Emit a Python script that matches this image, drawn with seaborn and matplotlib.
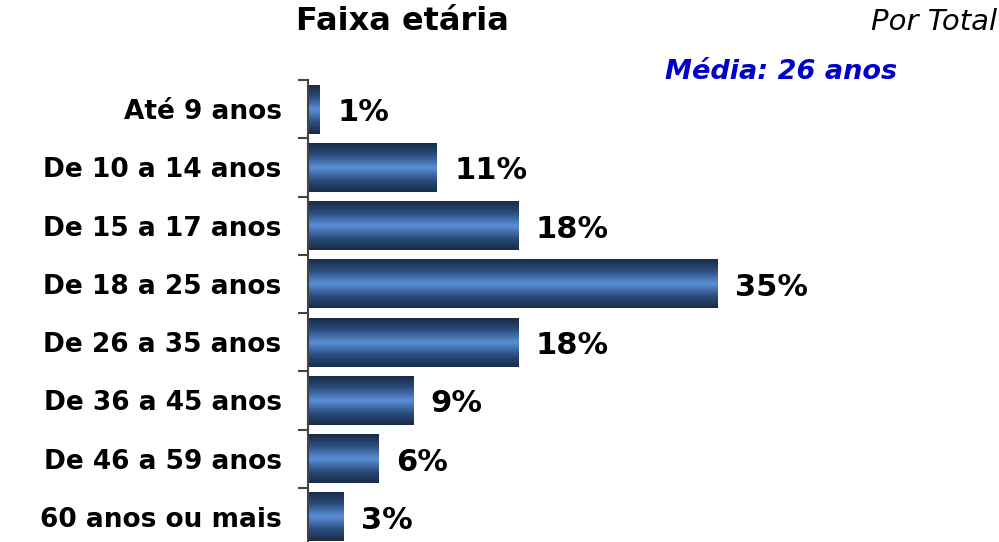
import matplotlib
matplotlib.use("Agg")
import matplotlib.pyplot as plt
from matplotlib.colors import LinearSegmentedColormap
import seaborn as sns
import pandas as pd
import numpy as np

categorias = ["Até 9 anos", "De 10 a 14 anos", "De 15 a 17 anos", "De 18 a 25 anos",
              "De 26 a 35 anos", "De 36 a 45 anos", "De 46 a 59 anos", "60 anos ou mais"]
percentuais = [1, 11, 18, 35, 18, 9, 6, 3]
rotulos = ["1%", "11%", "18%", "35%", "18%", "9%", "6%", "3%"]

df = pd.DataFrame({"faixa": categorias, "pct": percentuais})

sns.set_style("white")
plt.rcParams['font.family'] = ['DejaVu Sans']
plt.rcParams['text.color'] = 'black'

fig = plt.figure(figsize=(9.99, 5.42), dpi=100)
ax = fig.add_axes([308 / 999, -4 / 542, 1 - 308 / 999, 466 / 542])

sns.barplot(data=df, x="pct", y="faixa", orient="h", color="#2f5a90",
            width=0.84, ax=ax)

# gradiente vertical em cada barra (escuro nas bordas, claro no meio)
cmap = LinearSegmentedColormap.from_list(
    "barra", ["#172a47", "#2c4f80", "#5a8fd8", "#2c4f80", "#172a47"])
grad = np.linspace(0, 1, 256).reshape(-1, 1)
for p in ax.patches:
    x0, y0 = p.get_x(), p.get_y()
    w, h = p.get_width(), p.get_height()
    p.set_facecolor("none")
    p.set_edgecolor("none")
    im = ax.imshow(grad, cmap=cmap, aspect="auto", extent=[x0, x0 + w, y0 + h, y0],
                   zorder=2, interpolation="bicubic")
    im.set_clip_path(p)

ax.set_xlim(0, (999 - 308) / 11.69)
ax.set_ylim(len(categorias) - 0.5, -0.5)

for i, (v, r) in enumerate(zip(percentuais, rotulos)):
    ax.text(v + 1.5, i + 0.06, r, va="center", ha="left", fontsize=22,
            fontweight="bold", color="black")

ax.set_xlabel("")
ax.set_ylabel("")
ax.set_xticks([])
ax.tick_params(axis="y", which="major", left=False, length=0, pad=19,
               labelsize=19, labelcolor="black")
for lab in ax.get_yticklabels():
    lab.set_fontweight("bold")
ax.set_yticks(np.arange(-0.5, len(categorias), 1.0), minor=True)
ax.tick_params(axis="y", which="minor", left=True, length=7, width=1.5,
               color="#444444")

for s in ["top", "right", "bottom"]:
    ax.spines[s].set_visible(False)
ax.spines["left"].set_color("#444444")
ax.spines["left"].set_linewidth(1.5)

fig.text(402 / 999, 1 - 22 / 542, "Faixa etária", ha="center", va="center",
         fontsize=23, fontweight="bold")
fig.text(997 / 999, 1 - 22 / 542, "Por Total", ha="right", va="center",
         fontsize=21, fontstyle="italic")
fig.text(897 / 999, 1 - 72 / 542, "Média: 26 anos", ha="right", va="center",
         fontsize=19.5, fontstyle="italic", fontweight="bold", color="#0000cc")

fig.savefig("out.png", dpi=100)
